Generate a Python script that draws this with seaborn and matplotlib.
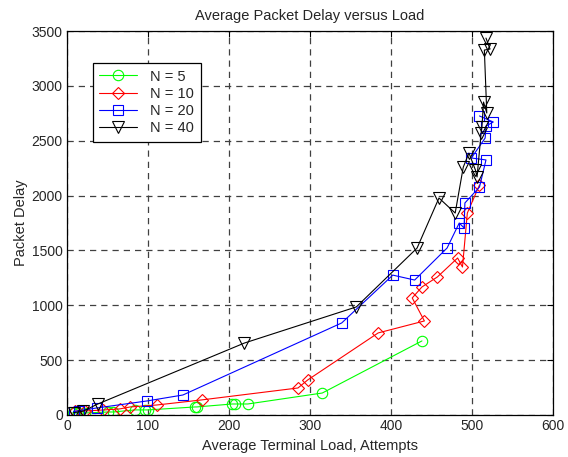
import matplotlib
matplotlib.use("Agg")
import matplotlib.pyplot as plt
import numpy as np
import pandas as pd
import seaborn as sns

# N = 5
load_n5 = [7, 14, 22, 51, 57, 84, 96, 100, 158, 160, 204, 207, 223, 315, 438]
delay_n5 = [18, 18, 18, 27, 27, 46, 46, 46, 73, 73, 100, 100, 100, 200, 675]

# N = 10
load_n10 = [10, 22, 44, 65, 78, 111, 166, 285, 297, 384, 441, 426, 438, 457, 482, 488, 494, 509]
delay_n10 = [36, 36, 45, 55, 73, 91, 137, 246, 319, 748, 857, 1067, 1167, 1258, 1431, 1349, 1841, 2097]

# N = 20
load_n20 = [8, 15, 37, 99, 143, 339, 402, 429, 469, 484, 490, 491, 509, 517, 499, 516, 517, 526, 509]
delay_n20 = [30, 40, 64, 128, 182, 839, 1275, 1230, 1522, 1750, 1705, 1933, 2078, 2325, 2343, 2525, 2634, 2671, 2726]

# N = 40
load_n40 = [8, 20, 38, 219, 357, 432, 459, 479, 489, 496, 504, 506, 511, 512, 514, 518, 515, 522, 517]
delay_n40 = [20, 35, 100, 656, 985, 1522, 1978, 1841, 2260, 2388, 2233, 2170, 2570, 2625, 2853, 2753, 3327, 3336, 3436]

series = [
    ("N = 5", load_n5, delay_n5, (0, 1, 0), "o", 7.5),
    ("N = 10", load_n10, delay_n10, (1, 0, 0), "D", 6),
    ("N = 20", load_n20, delay_n20, (0, 0, 1), "s", 7.5),
    ("N = 40", load_n40, delay_n40, (0, 0, 0), "v", 8.5),
]

sns.set_style("white")
plt.rcParams["font.family"] = ["Liberation Sans", "DejaVu Sans"]
plt.rcParams["xtick.direction"] = "in"
plt.rcParams["ytick.direction"] = "in"

fig = plt.figure(figsize=(5.68, 4.57), dpi=100)
ax = fig.add_axes([0.118, 0.092, 0.856, 0.840])

for name, xs, ys, col, mk, ms in series:
    df = pd.DataFrame({"load": xs, "delay": ys})
    sns.lineplot(data=df, x="load", y="delay", sort=False, estimator=None,
                 ax=ax, color=col, marker=mk, markersize=ms,
                 markerfacecolor="none", markeredgecolor=col,
                 markeredgewidth=0.8, linewidth=0.8, label=name)

ax.set_xlim(0, 600)
ax.set_ylim(0, 3500)
ax.set_xticks(np.arange(0, 601, 100))
ax.set_yticks(np.arange(0, 3501, 500))
ax.grid(True, color="0.25", linestyle=(0, (5, 4)), linewidth=0.9)
for s in ax.spines.values():
    s.set_color("black")
    s.set_linewidth(0.9)
ax.tick_params(axis="both", which="both", top=True, right=True, length=4,
               width=0.8, color="black", labelsize=10, pad=3)

ax.set_title("Average Packet Delay versus Load", fontsize=10.5, pad=8)
ax.set_xlabel("Average Terminal Load, Attempts", fontsize=10.5, labelpad=4)
ax.set_ylabel("Packet Delay", fontsize=10.5, labelpad=3)

leg = ax.legend(loc="upper left", bbox_to_anchor=(0.053, 0.917), fontsize=10.5,
                frameon=True, fancybox=False, framealpha=1, edgecolor="black",
                borderpad=0.45, labelspacing=0.22, handlelength=2.6,
                handletextpad=0.9, borderaxespad=0)
leg.get_frame().set_linewidth(0.9)

fig.savefig("out.png", dpi=100, facecolor="white")
